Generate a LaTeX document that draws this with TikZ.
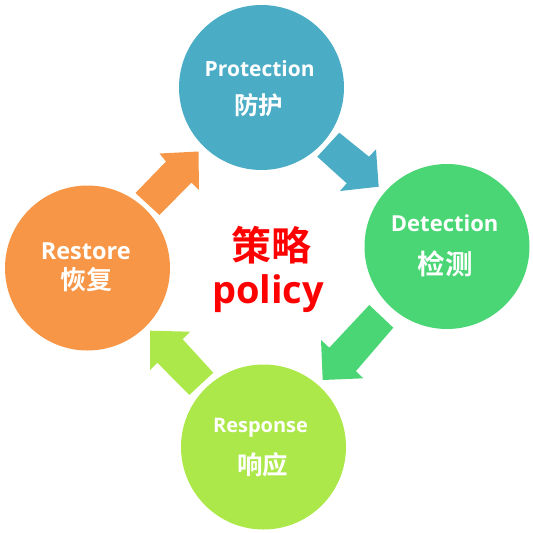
\documentclass[tikz,border=0pt]{standalone}
\usepackage{fontspec}
\setmainfont{Open Sans}
\newfontfamily\cjk{Noto Sans CJK SC Bold}
\definecolor{cblue}{HTML}{4BACC6}
\definecolor{cgreen}{HTML}{4AD675}
\definecolor{clime}{HTML}{ACE84A}
\definecolor{corange}{HTML}{F79646}
\definecolor{cred}{HTML}{FF0000}
\newcommand{\fsz}[1]{\fontsize{#1}{#1}\selectfont}
\begin{document}
\begin{tikzpicture}[x=1pt,y=-1pt,
  ball/.style={circle,minimum size=165pt,inner sep=0pt,draw=none},
  lat/.style={anchor=base,text=white,inner sep=0pt,font=\bfseries},
  han/.style={anchor=base,text=white,inner sep=0pt,font=\cjk}]
\useasboundingbox (0,0) rectangle (533,533);
% circles
\node[ball,fill=cblue] (prot) at (261.5,87.5) {};
\node[ball,fill=cgreen] (det) at (447,246.5) {};
\node[ball,fill=clime] (resp) at (263.5,447) {};
\node[ball,fill=corange] (rest) at (87.5,268) {};
% block arrows
\fill[cblue] (339.3,132.7) -- (369,156.7) -- (376,149.3) -- (378.7,186.7) -- (340,191) -- (346.7,183.3) -- (317.3,156.7) -- cycle;
\fill[cgreen] (369.3,305) -- (393.3,327.7) -- (356,371) -- (363.3,378.3) -- (322.7,380) -- (321,340) -- (329.3,347.7) -- cycle;
\fill[clime] (150,330.7) -- (190,331.7) -- (182.7,339.3) -- (213.3,372.7) -- (189.3,395) -- (157.3,362.7) -- (150,370) -- cycle;
\fill[corange] (198.5,151.5) -- (199,190) -- (191.5,182.5) -- (159.5,215) -- (135.5,193) -- (166,161.5) -- (159.5,153.5) -- cycle;
% labels
\node[lat] (protE) at (259.7,76) {\fsz{21}Protection};
\node[han] (protC) at (258.8,114) {\fsz{24.5}防护};
\node[lat] (detE) at (444.7,231.7) {\fsz{22}Detection};
\node[han] (detC) at (445.3,274.3) {\fsz{27.5}检测};
\node[lat] (restE) at (85.8,259.3) {\fsz{23.5}Restore};
\node[han] (restC) at (86.7,289.9) {\fsz{26}恢复};
\node[lat] (respE) at (260.5,432.3) {\fsz{20}Response};
\node[han] (respC) at (262.7,474.2) {\fsz{25.5}响应};
\node[anchor=base,text=cred,inner sep=0pt,font=\cjk] (polC) at (271.4,260) {\fsz{40}策略};
\node[anchor=base,text=cred,inner sep=0pt,font=\bfseries] (polE) at (268,303) {\fsz{38}policy};
\end{tikzpicture}
\end{document}
